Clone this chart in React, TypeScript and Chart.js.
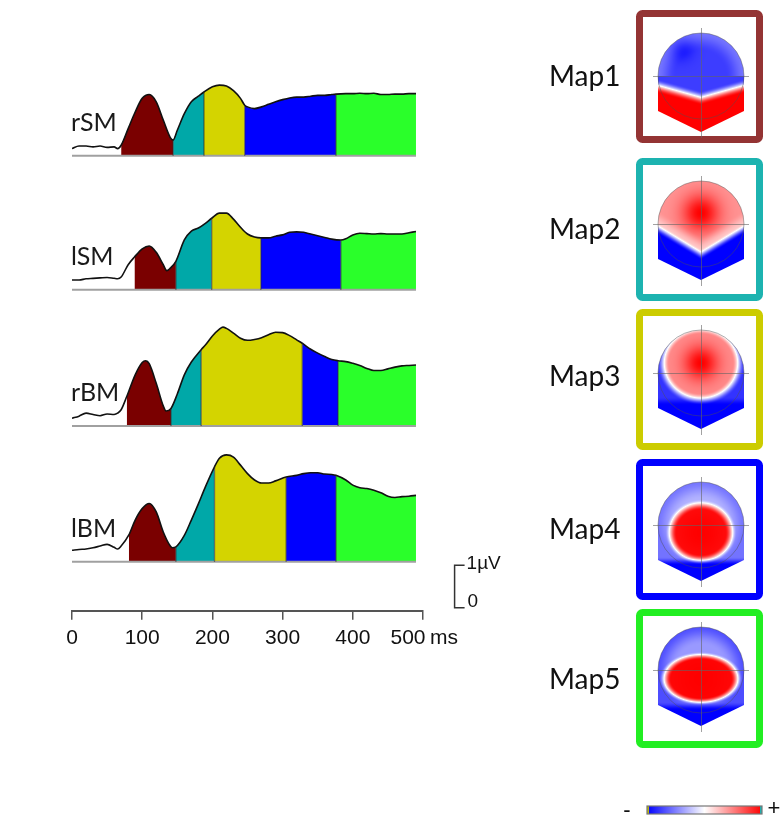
import React, { useEffect, useRef } from 'react';
import { Chart, registerables } from 'chart.js';

Chart.register(...registerables);

// ---------------- data ----------------
const TRACE_NAMES = ['rSM', 'lSM', 'rBM', 'lBM'];
const X_TICKS = [0, 100, 200, 300, 400, 500];
const X_UNIT = 'ms';

const RSM_T = [0,10,20,30,40,50,60,65,70,80,90,100,110,120,130,140,144,150,160,170,180,188,200,210,220,230,240,246,250,260,270,280,290,300,310,320,330,340,350,360,370,376,390,400,410,420,430,440,450,460,470,480,490];
const RSM_V = [0.17,0.23,0.23,0.21,0.23,0.20,0.21,0.17,0.25,0.64,1.03,1.35,1.44,1.27,0.84,0.43,0.37,0.60,0.99,1.27,1.40,1.50,1.62,1.66,1.64,1.53,1.35,1.19,1.15,1.11,1.15,1.21,1.27,1.32,1.36,1.38,1.38,1.40,1.42,1.42,1.44,1.45,1.46,1.46,1.47,1.46,1.47,1.44,1.44,1.45,1.45,1.46,1.46];
const RSM_B = [70, 144, 188, 246, 376, 490];

const LSM_T = [0,10,20,30,40,50,60,65,70,80,89,100,110,120,130,135,140,148,160,170,180,190,199,210,220,230,240,250,260,269,280,290,300,310,320,330,340,350,360,370,383,390,400,410,420,430,440,450,460,470,480,490];
const LSM_V = [0.23,0.23,0.26,0.27,0.28,0.29,0.27,0.26,0.30,0.59,0.77,0.96,1.03,0.88,0.59,0.45,0.51,0.67,1.17,1.38,1.45,1.56,1.68,1.80,1.80,1.66,1.47,1.31,1.24,1.22,1.22,1.26,1.29,1.35,1.36,1.35,1.31,1.27,1.23,1.19,1.17,1.20,1.29,1.33,1.32,1.31,1.32,1.31,1.31,1.31,1.34,1.37];
const LSM_B = [89, 148, 199, 269, 383, 490];

const RBM_T = [0,10,20,30,40,50,60,65,70,78,90,100,105,110,120,130,134,141,150,160,170,184,190,200,210,215,220,230,240,250,260,270,280,290,300,310,320,328,340,350,360,370,379,390,400,410,420,430,440,450,460,470,480,490];
const RBM_V = [0.18,0.23,0.30,0.27,0.24,0.28,0.27,0.30,0.38,0.69,1.20,1.49,1.53,1.46,1.00,0.47,0.35,0.41,0.75,1.20,1.50,1.79,1.90,2.11,2.27,2.32,2.29,2.18,2.06,2.01,2.03,2.07,2.14,2.20,2.19,2.12,2.02,1.94,1.80,1.71,1.63,1.56,1.53,1.51,1.47,1.42,1.35,1.30,1.30,1.34,1.38,1.41,1.42,1.43];
const RBM_B = [78, 141, 184, 328, 379, 490];

const LBM_T = [0,10,20,30,40,50,60,65,70,81,90,100,110,120,130,140,143,148,160,170,180,190,203,210,220,230,240,250,260,270,280,290,305,320,330,340,350,360,370,376,390,400,410,420,430,440,450,460,470,480,490];
const LBM_V = [0.27,0.29,0.30,0.33,0.37,0.41,0.34,0.30,0.37,0.63,0.98,1.25,1.37,1.17,0.70,0.37,0.33,0.35,0.62,0.98,1.36,1.76,2.23,2.43,2.51,2.46,2.27,2.07,1.92,1.85,1.85,1.90,1.99,2.03,2.07,2.09,2.09,2.06,2.05,2.03,1.92,1.80,1.74,1.72,1.68,1.62,1.54,1.51,1.53,1.54,1.56];
const LBM_B = [81, 148, 203, 305, 376, 490];

const SEG_COLORS = ['#7a0000', '#00a8a8', '#d4d400', '#0000ff', '#2aff2a'];
const MAP_LABELS = ['Map1', 'Map2', 'Map3', 'Map4', 'Map5'];
const MAP_BORDERS = ['#943434', '#1db3b0', '#cccc00', '#0000ff', '#22ee22'];
const SCALE_LABELS = ['1µV', '0'];

// ---------------- layout ----------------
const OFFSETS = [9.53, 6.385, 3.19, 0];
const Y_MIN = -1.15;
const Y_MAX = 12.25;
const MAP_LAYOUT = [
  { top: 10, bottom: 143, cy: 76, ly: 77 },
  { top: 158, bottom: 301, cy: 224, ly: 230 },
  { top: 309, bottom: 450, cy: 373, ly: 377 },
  { top: 459, bottom: 600, cy: 525, ly: 530 },
  { top: 609, bottom: 748, cy: 670, ly: 680 },
];
const BOX_L = 636, BOX_R = 763, BORDER = 7, HEAD_CX = 701, HEAD_R = 43;
const TICK_FONT = "21px 'Liberation Sans', Arial, sans-serif";

const TRACES = [
  { t: RSM_T, v: RSM_V, b: RSM_B },
  { t: LSM_T, v: LSM_V, b: LSM_B },
  { t: RBM_T, v: RBM_V, b: RBM_B },
  { t: LBM_T, v: LBM_V, b: LBM_B },
];

// ---------------- topography fields ----------------
const sstep = (a: number, b: number, x: number) => {
  const t = Math.max(0, Math.min(1, (x - a) / (b - a)));
  return t * t * (3 - 2 * t);
};

type Blob = { x: number; y: number; rx: number; ryU: number; ryD: number; plateau: number; sigma: number; e0: number; e1: number; neg: number; polyY: number; rim: number };
const blob = (p: Blob) => (dx: number, dy: number) => {
  const ry = dy < p.y ? p.ryU : p.ryD;
  const dn = Math.hypot((dx - p.x) / p.rx, (dy - p.y) / ry);
  const d2 = (dx - p.x) ** 2 + (dy - p.y) ** 2;
  const pos = p.plateau + (1 - p.plateau) * Math.exp(-d2 / (2 * p.sigma * p.sigma));
  const t = sstep(p.e0, p.e1, dn);
  let neg = p.neg - p.rim * sstep(25, 45, Math.hypot(dx, dy));
  neg = neg + (-1 - neg) * sstep(p.polyY - 4, p.polyY + 4, dy);
  return pos * (1 - t) + neg * t;
};

const MAP_FIELDS: ((dx: number, dy: number) => number)[] = [
  (dx, dy) => {
    const ax = Math.min(1, Math.abs(dx) / 43);
    const yb = 12 + 12 * (1 - ax);
    const s = sstep(yb - 9, yb + 5, dy);
    const rim = sstep(25, 44, Math.hypot(dx, dy)) * (dy < 0 ? 1 : 0);
    const bl = Math.exp(-((dx + 20) ** 2 + (dy + 28) ** 2) / (2 * 9 * 9));
    const neg = -0.76 - 0.18 * bl + 0.22 * rim;
    return neg * (1 - s) + s;
  },
  (dx, dy) => {
    const ax = Math.min(1, Math.abs(dx) / 43);
    const yb = 30 - 26 * ax;
    const s = sstep(yb - 5, yb + 6, dy);
    const pos = 0.42 + 0.58 * Math.exp(-(dx * dx + (dy + 11) ** 2) / (2 * 13 * 13));
    const fade = pos * (1 - 0.5 * sstep(yb - 18, yb - 3, dy));
    return fade * (1 - s) - s;
  },
  blob({ x: 0, y: -10, rx: 44, ryU: 40, ryD: 42, plateau: 0.45, sigma: 12, e0: 0.72, e1: 1.0, neg: -0.8, polyY: 28, rim: 0 }),
  blob({ x: 0, y: 8, rx: 34, ryU: 32, ryD: 30, plateau: 0.92, sigma: 20, e0: 0.72, e1: 1.05, neg: -0.3, polyY: 36, rim: 0.25 }),
  blob({ x: 0, y: 9, rx: 40, ryU: 26, ryD: 25, plateau: 0.95, sigma: 25, e0: 0.75, e1: 1.05, neg: -0.4, polyY: 36, rim: 0.3 }),
];

function colorOf(v: number): [number, number, number] {
  const c = Math.max(-1, Math.min(1, v));
  if (c >= 0) {
    const w = Math.round(255 * (1 - c));
    return [255, w, w];
  }
  const w = Math.round(255 * (1 + c));
  return [w, w, 255];
}

const mapCache: HTMLCanvasElement[] = [];
function mapImage(i: number) {
  if (mapCache[i]) return mapCache[i];
  const W = 100, H = 112;
  const c = document.createElement('canvas');
  c.width = W; c.height = H;
  const g = c.getContext('2d')!;
  const img = g.createImageData(W, H);
  for (let j = 0; j < H; j++) {
    for (let k = 0; k < W; k++) {
      const [r, gg, b] = colorOf(MAP_FIELDS[i](k - 50 + 0.5, j - 50 + 0.5));
      const o = (j * W + k) * 4;
      img.data[o] = r; img.data[o + 1] = gg; img.data[o + 2] = b; img.data[o + 3] = 255;
    }
  }
  g.putImageData(img, 0, 0);
  mapCache[i] = c;
  return c;
}

function headPath(ctx: CanvasRenderingContext2D, cx: number, cy: number) {
  ctx.beginPath();
  ctx.arc(cx, cy, HEAD_R, Math.PI, 0);
  ctx.lineTo(cx + HEAD_R, cy + 35);
  ctx.lineTo(cx, cy + 56);
  ctx.lineTo(cx - HEAD_R, cy + 35);
  ctx.closePath();
}

// ---------------- plugin ----------------
const overlay = {
  id: 'overlay',
  afterDatasetsDraw(chart: any) {
    const { ctx } = chart;
    const xs = chart.scales.x, ys = chart.scales.y;
    ctx.save();
    ctx.strokeStyle = 'rgba(40,40,40,0.6)';
    ctx.lineWidth = 1.3;
    TRACES.forEach((tr, i) => {
      for (let s = 1; s < 5; s++) {
        const t = tr.b[s];
        const k = tr.t.indexOf(t);
        if (k < 0) continue;
        const px = xs.getPixelForValue(t);
        ctx.beginPath();
        ctx.moveTo(px, ys.getPixelForValue(OFFSETS[i]));
        ctx.lineTo(px, ys.getPixelForValue(tr.v[k] + OFFSETS[i]));
        ctx.stroke();
      }
    });
    ctx.restore();
  },
  afterDraw(chart: any) {
    const { ctx } = chart;
    const xs = chart.scales.x, ys = chart.scales.y;
    ctx.save();
    // trace labels
    ctx.fillStyle = '#1a1a1a';
    ctx.textBaseline = 'middle';
    ctx.textAlign = 'left';
    ctx.font = "25px Lato, 'Open Sans', sans-serif";
    TRACE_NAMES.forEach((n, i) => ctx.fillText(n, 71, ys.getPixelForValue(OFFSETS[i]) - 33));
    // last tick label shifted left + unit
    ctx.font = TICK_FONT;
    ctx.fillStyle = '#111';
    ctx.textAlign = 'center';
    ctx.fillText(String(X_TICKS[X_TICKS.length - 1]), xs.getPixelForValue(X_TICKS[X_TICKS.length - 1]) - 15, 638.5);
    ctx.textAlign = 'left';
    ctx.fillText(X_UNIT, 430, 638.5);
    // scale bar
    const sx = xs.getPixelForValue(545);
    const y0 = ys.getPixelForValue(-1.08), y1 = ys.getPixelForValue(-0.08);
    ctx.strokeStyle = '#333';
    ctx.lineWidth = 1.5;
    ctx.beginPath();
    ctx.moveTo(sx + 10, y1); ctx.lineTo(sx, y1); ctx.lineTo(sx, y0); ctx.lineTo(sx + 10, y0);
    ctx.stroke();
    ctx.font = "19px 'Liberation Sans', Arial, sans-serif";
    ctx.fillText(SCALE_LABELS[0], sx + 12, y1 - 1);
    ctx.fillText(SCALE_LABELS[1], sx + 13, y0 - 6);

    // maps
    MAP_LAYOUT.forEach((m, i) => {
      ctx.strokeStyle = MAP_BORDERS[i];
      ctx.lineWidth = BORDER;
      ctx.beginPath();
      (ctx as any).roundRect(BOX_L + BORDER / 2, m.top + BORDER / 2, BOX_R - BOX_L - BORDER, m.bottom - m.top - BORDER, 3);
      ctx.stroke();
      const cx = HEAD_CX, cy = m.cy;
      ctx.save();
      headPath(ctx, cx, cy);
      ctx.clip();
      ctx.drawImage(mapImage(i), cx - 50, cy - 50);
      ctx.restore();
      ctx.strokeStyle = 'rgba(80,80,80,0.45)';
      ctx.lineWidth = 1;
      ctx.beginPath();
      ctx.arc(cx, cy, HEAD_R, 0, Math.PI * 2);
      ctx.stroke();
      ctx.strokeStyle = 'rgba(100,100,100,0.6)';
      ctx.beginPath();
      ctx.moveTo(cx - 48, cy + 0.5); ctx.lineTo(cx + 48, cy + 0.5);
      ctx.moveTo(cx + 0.5, cy - 48); ctx.lineTo(cx + 0.5, cy + 62);
      ctx.stroke();
      ctx.fillStyle = '#111';
      ctx.font = "28px Lato, 'Open Sans', sans-serif";
      ctx.textAlign = 'left';
      ctx.textBaseline = 'middle';
      ctx.fillText(MAP_LABELS[i], 549, m.ly);
    });

    // colour bar
    const bx0 = 647, bx1 = 762, by0 = 806, by1 = 814;
    const grad = ctx.createLinearGradient(bx0, 0, bx1, 0);
    grad.addColorStop(0, '#0000ff');
    grad.addColorStop(0.5, '#ffffff');
    grad.addColorStop(1, '#ff0000');
    ctx.fillStyle = grad;
    ctx.fillRect(bx0, by0, bx1 - bx0, by1 - by0);
    ctx.fillStyle = '#b8b800';
    ctx.fillRect(bx0, by0, 2, by1 - by0);
    ctx.fillStyle = '#20b0b0';
    ctx.fillRect(bx1 - 2, by0, 2, by1 - by0);
    ctx.strokeStyle = '#777';
    ctx.lineWidth = 1.2;
    ctx.strokeRect(bx0, by0, bx1 - bx0, by1 - by0);
    ctx.fillStyle = '#111';
    ctx.font = "22px 'Liberation Sans', Arial, sans-serif";
    ctx.textAlign = 'center';
    ctx.fillText('-', 627, 811);
    ctx.fillText('+', 774, 809);
    ctx.restore();
  },
};

function buildDatasets() {
  const ds: any[] = [];
  TRACES.forEach((tr, i) => {
    const off = OFFSETS[i];
    const pts = tr.t.map((t, k) => ({ x: t, y: tr.v[k] + off }));
    ds.push({
      data: pts, borderColor: '#111', borderWidth: 1.6, pointRadius: 0, fill: false,
      cubicInterpolationMode: 'monotone', order: 0,
    });
    ds.push({
      data: [{ x: tr.t[0], y: off }, { x: tr.t[tr.t.length - 1], y: off }],
      borderColor: '#a0a0a0', borderWidth: 2, pointRadius: 0, fill: false, order: 1,
    });
    for (let s = 0; s < 5; s++) {
      const a = tr.b[s], e = tr.b[s + 1];
      ds.push({
        data: pts.filter((p) => p.x >= a && p.x <= e),
        borderWidth: 0, borderColor: 'rgba(0,0,0,0)', backgroundColor: SEG_COLORS[s],
        pointRadius: 0, fill: { value: off }, cubicInterpolationMode: 'monotone', order: 2,
      });
    }
  });
  return ds;
}

export default function App() {
  const ref = useRef<HTMLCanvasElement>(null);
  useEffect(() => {
    if (!ref.current) return;
    const last = X_TICKS[X_TICKS.length - 1];
    const chart = new Chart(ref.current, {
      type: 'line',
      data: { datasets: buildDatasets() },
      options: {
        responsive: false,
        animation: false,
        events: [],
        devicePixelRatio: 1,
        layout: { padding: { left: 72, right: 357, top: 40, bottom: 163 } },
        plugins: { legend: { display: false }, tooltip: { enabled: false } },
        scales: {
          x: {
            type: 'linear', min: 0, max: 500,
            afterBuildTicks: (axis: any) => { axis.ticks = X_TICKS.map((v) => ({ value: v })); },
            ticks: {
              font: { family: "'Liberation Sans', Arial, sans-serif", size: 21 },
              color: '#111', padding: 6, maxRotation: 0, autoSkip: false,
              callback: (v: any) => (v === last ? '' : String(v)),
            },
            grid: { drawOnChartArea: false, drawTicks: true, tickLength: 9, color: '#555', lineWidth: 1.5 },
            border: { display: true, color: '#555', width: 2 },
          },
          y: { display: false, min: Y_MIN, max: Y_MAX },
        },
      } as any,
      plugins: [overlay],
    });
    return () => chart.destroy();
  }, []);
  return (
    <div style={{ position: 'absolute', left: 0, top: 0, width: 780, height: 820, background: '#fff' }}>
      <canvas ref={ref} width={780} height={820} style={{ display: 'block' }} />
    </div>
  );
}
